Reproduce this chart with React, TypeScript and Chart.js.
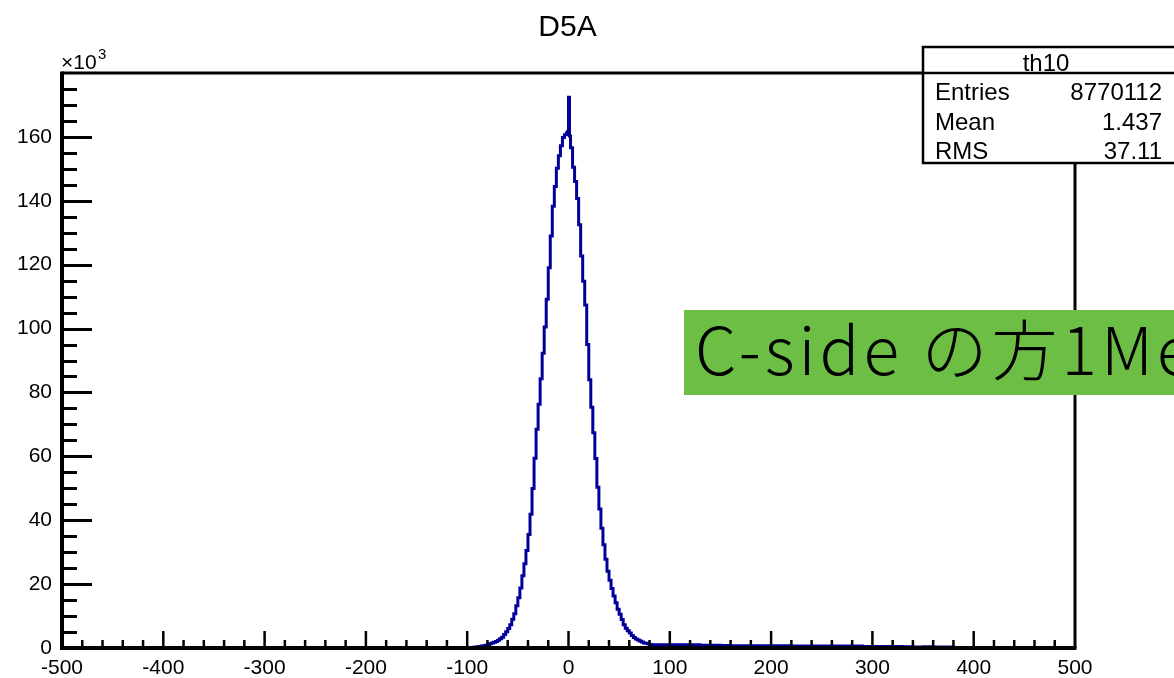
import React, { useEffect, useRef } from "react";
import { Chart, registerables } from "chart.js";

Chart.register(...registerables);

const TITLE = "D5A";
const EXPONENT_BASE = "×10";
const EXPONENT = "3";
const STATS_NAME = "th10";
const STATS_LABELS = ["Entries", "Mean", "RMS"];
const STATS_VALUES = ["8770112", "1.437", "37.11"];
const NOTE = "C-side の方1Me";

const X_MIN = -500;
const X_MAX = 500;
const Y_MIN = 0;
const Y_MAX = 180;
const X_MAJOR = 100;
const X_MINOR = 20;
const Y_MAJOR = 20;
const Y_MINOR = 5;

// histogram bin left edges (last value is the right edge of the final bin)
const BIN_EDGES = [
  -500, -100, -98, -96, -94, -92, -90, -88, -86, -84, -82, -80, -78, -76, -74, -72, -70, -68,
  -66, -64, -62, -60, -58, -56, -54, -52, -50, -48, -46, -44, -42, -40, -38, -36, -34, -32,
  -30, -28, -26, -24, -22, -20, -18, -16, -14, -12, -10, -8, -6, -4, -2, -1, 0, 1,
  2, 4, 6, 8, 10, 12, 14, 16, 18, 20, 22, 24, 26, 28, 30, 32, 34, 36, 38, 40, 42, 44,
  46, 48, 50, 52, 54, 56, 58, 60, 62, 64, 66, 68, 70, 72, 74, 76, 78, 80, 82, 84, 86, 88,
  90, 92, 94, 96, 98, 100, 110, 120, 130, 140, 150, 160, 170, 180, 190, 200, 210, 220, 230,
  240, 250, 260, 270, 280, 290, 300, 310, 320, 330, 340, 350, 360, 370, 380, 500,
];

// entries per bin, in units of 10^3
const BIN_COUNTS = [
  0, 0, 0.05, 0.1, 0.2, 0.3, 0.4, 0.5, 0.6, 0.7, 0.9, 1.1, 1.3, 1.6, 1.8, 2.0, 2.4, 2.9,
  3.4, 4.2, 5.1, 6.1, 7.3, 9.0, 10.7, 13.2, 15.7, 18.8, 22.6, 26.4, 30.5, 35.5, 41.9, 49.9, 59.4, 68.5,
  76.3, 84.3, 92.3, 100.5, 109.2, 119.0, 129.0, 138.3, 144.5, 150.2, 154.1, 157.2, 159.8, 160.7, 161.2, 161.6, 172.4, 160.3,
  156.6, 150.5, 146.0, 140.7, 132.5, 122.7, 114.8, 107.4, 95.0, 84.0, 75.4, 67.4, 59.3, 50.3, 43.5, 37.5, 32.3, 27.8, 24.0, 21.2, 18.6, 16.3,
  14.2, 12.1, 10.6, 8.9, 7.3, 6.2, 5.4, 4.7, 3.9, 3.3, 2.8, 2.5, 2.2, 1.9, 1.6, 1.5, 1.3, 1.1, 1.0, 1.0, 1.0, 1.0,
  1.0, 1.0, 1.0, 1.0, 1.0, 1.0, 1.0, 1.0, 0.9, 0.9, 0.8, 0.7, 0.7, 0.7, 0.7, 0.7, 0.7, 0.6, 0.6,
  0.6, 0.6, 0.6, 0.6, 0.6, 0.5, 0.5, 0.5, 0.5, 0.4, 0.3, 0.4, 0.3, 0.3, 0, 0,
];

const FONT = "'Liberation Sans', Arial, Helvetica, sans-serif";

const overlayPlugin = {
  id: "rootStyle",
  afterDatasetsDraw(chart: any) {
    const ctx = chart.ctx as CanvasRenderingContext2D;
    const { left, right, top, bottom } = chart.chartArea;
    const xs = chart.scales.x;
    const ys = chart.scales.y;
    ctx.save();
    ctx.strokeStyle = "#000";
    ctx.lineCap = "butt";
    // y ticks
    ctx.lineWidth = 3;
    for (let v = Y_MIN + Y_MINOR; v < Y_MAX; v += Y_MINOR) {
      const y = Math.round(ys.getPixelForValue(v)) + 0.5;
      const len = v % Y_MAJOR === 0 ? 30 : 15;
      ctx.beginPath();
      ctx.moveTo(left, y);
      ctx.lineTo(left + len, y);
      ctx.stroke();
    }
    // x ticks
    ctx.lineWidth = 2.5;
    for (let v = X_MIN + X_MINOR; v < X_MAX; v += X_MINOR) {
      const x = xs.getPixelForValue(v);
      const len = v % X_MAJOR === 0 ? 17 : 8;
      ctx.beginPath();
      ctx.moveTo(x, bottom);
      ctx.lineTo(x, bottom - len);
      ctx.stroke();
    }
    // frame
    ctx.lineWidth = 3;
    ctx.beginPath();
    ctx.moveTo(left, top);
    ctx.lineTo(right, top);
    ctx.moveTo(right, top);
    ctx.lineTo(right, bottom);
    ctx.stroke();
    ctx.lineWidth = 4;
    ctx.beginPath();
    ctx.moveTo(left, top - 1.5);
    ctx.lineTo(left, bottom + 2);
    ctx.moveTo(left - 2, bottom);
    ctx.lineTo(right + 1.5, bottom);
    ctx.stroke();

    // title
    ctx.fillStyle = "#000";
    ctx.font = `30px ${FONT}`;
    ctx.textAlign = "center";
    ctx.textBaseline = "alphabetic";
    ctx.fillText(TITLE, 567.5, 36);

    // exponent label
    ctx.textAlign = "left";
    ctx.font = `21px ${FONT}`;
    ctx.fillText(EXPONENT_BASE, left - 1, 69);
    ctx.font = `15px ${FONT}`;
    ctx.fillText(EXPONENT, 98, 59);

    // stats box
    const bx = 923;
    const by = 47;
    const bw = 270;
    const bh = 116;
    ctx.fillStyle = "#fff";
    ctx.fillRect(bx, by, bw, bh);
    ctx.lineWidth = 2.5;
    ctx.strokeRect(bx, by, bw, bh);
    ctx.beginPath();
    ctx.moveTo(bx, 73);
    ctx.lineTo(bx + bw, 73);
    ctx.stroke();
    ctx.fillStyle = "#000";
    ctx.font = `24px ${FONT}`;
    ctx.textAlign = "center";
    ctx.fillText(STATS_NAME, 1046, 71);
    const rows = [100, 130, 159];
    STATS_LABELS.forEach((lab, i) => {
      ctx.textAlign = "left";
      ctx.fillText(lab, 935, rows[i]);
      ctx.textAlign = "right";
      ctx.fillText(STATS_VALUES[i], 1162, rows[i]);
    });

    // green note
    ctx.fillStyle = "#6dbe45";
    ctx.fillRect(684, 310, 520, 85);
    ctx.fillStyle = "#000";
    ctx.textAlign = "left";
    ctx.font = `300 66px 'Noto Sans CJK JP', 'Noto Sans', sans-serif`;
    try {
      (ctx as any).letterSpacing = "4px";
    } catch (e) {}
    ctx.fillText(NOTE, 695, 375);
    try {
      (ctx as any).letterSpacing = "0px";
    } catch (e) {}
    ctx.restore();
  },
};

export default function App() {
  const ref = useRef<HTMLCanvasElement | null>(null);
  useEffect(() => {
    if (!ref.current) return;
    const points = BIN_EDGES.map((x, i) => ({ x, y: BIN_COUNTS[i] }));
    const chart = new Chart(ref.current, {
      type: "line",
      data: {
        datasets: [
          {
            label: STATS_NAME,
            data: points,
            stepped: true,
            borderColor: "#000099",
            borderWidth: 3,
            pointRadius: 0,
            fill: false,
            clip: 4,
          },
        ],
      },
      options: {
        animation: false,
        responsive: false,
        devicePixelRatio: 1,
        layout: { padding: { top: 73, right: 99, left: 0, bottom: 0 } },
        plugins: { legend: { display: false }, title: { display: false }, tooltip: { enabled: false } },
        scales: {
          x: {
            type: "linear",
            min: X_MIN,
            max: X_MAX,
            grid: { display: false, drawTicks: false },
            border: { display: false },
            ticks: {
              stepSize: X_MAJOR,
              color: "#000",
              font: { family: FONT, size: 21 },
              padding: 8,
              maxRotation: 0,
              autoSkip: false,
            },
            afterFit: (s: any) => {
              s.height = 30;
            },
          },
          y: {
            type: "linear",
            min: Y_MIN,
            max: Y_MAX,
            grid: { display: false, drawTicks: false },
            border: { display: false },
            ticks: {
              stepSize: Y_MAJOR,
              color: "#000",
              font: { family: FONT, size: 21 },
              padding: 10,
              callback: (v: any) => (Number(v) >= Y_MAX ? "" : String(v)),
            },
            afterFit: (s: any) => {
              s.width = 62;
            },
          },
        },
      },
      plugins: [overlayPlugin],
    });
    return () => chart.destroy();
  }, []);
  return (
    <div style={{ position: "fixed", left: 0, top: 0, width: 1174, height: 678, background: "#fff" }}>
      <canvas ref={ref} width={1174} height={678} style={{ width: 1174, height: 678, display: "block" }} />
    </div>
  );
}
